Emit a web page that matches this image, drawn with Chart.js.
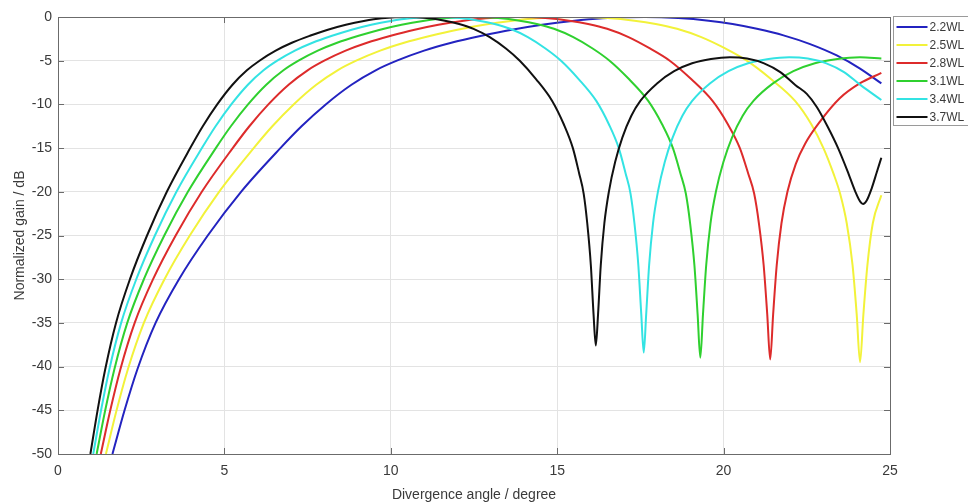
<!DOCTYPE html>
<html><head><meta charset="utf-8">
<script src="https://cdn.jsdelivr.net/npm/chart.js@4.4.1/dist/chart.umd.min.js"></script>
<style>html,body{margin:0;padding:0;background:#fff;overflow:hidden}</style>
</head><body>
<canvas id="c" width="968" height="504"></canvas>
<script>
// ---- data ----
const seriesLabels = ['2.2WL', '2.5WL', '2.8WL', '3.1WL', '3.4WL', '3.7WL'];
const xTickValues = [0, 5, 10, 15, 20, 25];
const yTickValues = [0, -5, -10, -15, -20, -25, -30, -35, -40, -45, -50];
const xTitle = 'Divergence angle / degree';
const yTitle = 'Normalized gain / dB';

const wl22X = [1.636, 2.0, 2.386, 2.932, 3.636, 4.5, 5.5, 6.682, 7.318, 8.045, 8.818, 9.545, 10.182, 11.0, 11.818, 12.727, 13.636, 14.545, 15.455, 16.364, 17.636, 18.64, 19.55, 20.27, 21.0, 21.8, 22.6, 23.4, 24.1, 24.74];
const wl22Y = [-50, -45, -40.3, -35, -30, -25, -20, -15, -12.5, -10, -7.75, -6.1, -5, -3.85, -2.95, -2.15, -1.45, -0.88, -0.45, -0.15, 0, -0.12, -0.42, -0.8, -1.35, -2.1, -3.1, -4.4, -5.9, -7.6];

const wl25X = [1.44, 1.76, 2.1, 2.58, 3.2, 3.96, 4.84, 5.88, 6.44, 7.08, 7.76, 8.4, 8.96, 9.68, 10.4, 11.2, 12.0, 12.8, 13.6, 14.4, 15.52, 16.51, 17.32, 17.96, 18.6, 19.33, 20.05, 20.697, 21.422, 22.147, 22.64, 23.0, 23.3, 23.5, 23.7, 23.875, 23.999, 24.1, 24.201, 24.321, 24.483, 24.74];
const wl25Y = [-50, -45, -40.3, -35, -30, -25, -20, -15, -12.5, -10, -7.75, -6.1, -5, -3.85, -2.95, -2.15, -1.45, -0.88, -0.45, -0.15, 0, -0.12, -0.42, -0.8, -1.35, -2.3, -3.6, -5, -7.1, -9.6, -12.3, -15, -17.9, -20.2, -23.6, -28.4, -34, -39.5, -34, -28.4, -23.6, -20.4];

const wl28X = [1.286, 1.571, 1.875, 2.304, 2.857, 3.536, 4.321, 5.25, 5.75, 6.321, 6.929, 7.5, 8.0, 8.643, 9.286, 10.0, 10.714, 11.429, 12.143, 12.857, 13.857, 14.643, 15.357, 15.929, 16.5, 17.143, 17.786, 18.382, 19.025, 19.668, 20.132, 20.489, 20.739, 20.918, 21.061, 21.204, 21.311, 21.4, 21.489, 21.596, 21.739, 21.918, 22.17, 22.45, 22.89, 23.49, 24.09, 24.74];
const wl28Y = [-50, -45, -40.3, -35, -30, -25, -20, -15, -12.5, -10, -7.75, -6.1, -5, -3.85, -2.95, -2.15, -1.45, -0.88, -0.45, -0.15, 0, -0.12, -0.42, -0.8, -1.35, -2.3, -3.6, -5, -7.1, -9.6, -12.3, -15, -17.9, -20.2, -23.6, -28.4, -34, -39.2, -34, -28.4, -23.6, -20, -16.8, -14.5, -12.0, -9.3, -7.6, -6.4];

const wl31X = [1.161, 1.419, 1.694, 2.081, 2.581, 3.194, 3.903, 4.742, 5.194, 5.71, 6.258, 6.774, 7.226, 7.806, 8.387, 9.032, 9.677, 10.323, 10.968, 11.613, 12.516, 13.226, 13.871, 14.387, 14.903, 15.484, 16.065, 16.574, 17.155, 17.735, 18.155, 18.477, 18.703, 18.865, 18.994, 19.123, 19.219, 19.3, 19.381, 19.477, 19.606, 19.768, 19.994, 20.252, 20.574, 20.897, 21.484, 22.097, 22.742, 23.419, 24.097, 24.74];
const wl31Y = [-50, -45, -40.3, -35, -30, -25, -20, -15, -12.5, -10, -7.75, -6.1, -5, -3.85, -2.95, -2.15, -1.45, -0.88, -0.45, -0.15, 0, -0.12, -0.42, -0.8, -1.35, -2.3, -3.6, -5, -7.1, -9.6, -12.3, -15, -17.9, -20.2, -23.6, -28.4, -34, -39, -34, -28.4, -23.6, -20, -16.6, -13.8, -11.3, -9.6, -7.6, -6.2, -5.3, -4.8, -4.6, -4.75];

const wl34X = [1.059, 1.294, 1.544, 1.897, 2.353, 2.912, 3.559, 4.324, 4.735, 5.206, 5.706, 6.176, 6.588, 7.118, 7.647, 8.235, 8.824, 9.412, 10.0, 10.588, 11.412, 12.059, 12.647, 13.118, 13.588, 14.118, 14.647, 15.115, 15.644, 16.174, 16.556, 16.85, 17.056, 17.203, 17.321, 17.438, 17.526, 17.6, 17.674, 17.762, 17.879, 18.026, 18.232, 18.468, 18.762, 19.056, 19.588, 20.147, 20.735, 21.353, 21.971, 22.529, 23.088, 23.618, 24.118, 24.74];
const wl34Y = [-50, -45, -40.3, -35, -30, -25, -20, -15, -12.5, -10, -7.75, -6.1, -5, -3.85, -2.95, -2.15, -1.45, -0.88, -0.45, -0.15, 0, -0.12, -0.42, -0.8, -1.35, -2.3, -3.6, -5, -7.1, -9.6, -12.3, -15, -17.9, -20.2, -23.6, -28.4, -34, -38.4, -34, -28.4, -23.6, -20, -16.6, -13.8, -11.3, -9.6, -7.6, -6.2, -5.3, -4.8, -4.6, -4.75, -5.3, -6.3, -7.8, -9.5];

const wl37X = [0.973, 1.189, 1.419, 1.743, 2.162, 2.676, 3.27, 3.973, 4.351, 4.784, 5.243, 5.676, 6.054, 6.541, 7.027, 7.568, 8.108, 8.649, 9.189, 9.73, 10.486, 11.081, 11.622, 12.054, 12.486, 12.973, 13.459, 13.876, 14.363, 14.849, 15.201, 15.471, 15.66, 15.795, 15.903, 16.011, 16.092, 16.16, 16.228, 16.309, 16.417, 16.552, 16.741, 16.957, 17.228, 17.498, 18.0, 18.514, 19.054, 19.622, 20.189, 20.703, 21.216, 21.703, 22.162, 22.5, 22.8, 23.12, 23.44, 23.72, 23.96, 24.1, 24.19, 24.3, 24.45, 24.6, 24.74];
const wl37Y = [-50, -45, -40.3, -35, -30, -25, -20, -15, -12.5, -10, -7.75, -6.1, -5, -3.85, -2.95, -2.15, -1.45, -0.88, -0.45, -0.15, 0, -0.12, -0.42, -0.8, -1.35, -2.3, -3.6, -5, -7.1, -9.6, -12.3, -15, -17.9, -20.2, -23.6, -28.4, -34, -37.6, -34, -28.4, -23.6, -20, -16.6, -13.8, -11.3, -9.6, -7.6, -6.2, -5.3, -4.8, -4.6, -4.75, -5.3, -6.3, -7.8, -8.8, -10.3, -12.5, -15, -17.6, -20, -21.1, -21.4, -21, -19.6, -17.8, -16.1];

const seriesX = [wl22X, wl25X, wl28X, wl31X, wl34X, wl37X];
const seriesY = [wl22Y, wl25Y, wl28Y, wl31Y, wl34Y, wl37Y];
const seriesColors = ['#2323c0', '#f2f23a', '#dd2b2b', '#2fd02f', '#33e3e3', '#111111'];

// ---- chart ----
const FONT = "'Liberation Sans', Arial, Helvetica, sans-serif";
const AXIS = '#6b6b6b';
const TXT = '#3a3a3a';

const datasets = seriesLabels.map((lab, i) => ({
  label: lab,
  data: seriesX[i].map((x, j) => ({ x: x, y: seriesY[i][j] })),
  borderColor: seriesColors[i],
  backgroundColor: seriesColors[i],
  borderWidth: 2,
  pointRadius: 0,
  fill: false,
  showLine: true,
  cubicInterpolationMode: 'monotone',
  order: seriesLabels.length - i
}));

const frame = {
  id: 'frame',
  afterDatasetsDraw(chart) {
    const { ctx, chartArea: a, scales } = chart;
    ctx.save();
    ctx.strokeStyle = AXIS;
    ctx.lineWidth = 1;
    ctx.beginPath();
    xTickValues.forEach(v => {
      const px = Math.round(scales.x.getPixelForValue(v)) + 0.5;
      ctx.moveTo(px, a.bottom); ctx.lineTo(px, a.bottom - 6);
      ctx.moveTo(px, a.top); ctx.lineTo(px, a.top + 6);
    });
    yTickValues.forEach(v => {
      const py = Math.round(scales.y.getPixelForValue(v)) + 0.5;
      ctx.moveTo(a.left, py); ctx.lineTo(a.left + 6, py);
      ctx.moveTo(a.right, py); ctx.lineTo(a.right - 6, py);
    });
    ctx.stroke();
    ctx.strokeRect(Math.round(a.left) + 0.5, Math.round(a.top) + 0.5,
      Math.round(a.right - a.left), Math.round(a.bottom - a.top));
    ctx.restore();
  },
  afterDraw(chart) {
    const { ctx, chartArea: a } = chart;
    ctx.save();
    const bx = a.right + 3.5, by = a.top - 0.5, bw = 90, bh = 109;
    ctx.fillStyle = '#fff';
    ctx.fillRect(bx, by, bw, bh);
    ctx.strokeStyle = '#9a9a9a';
    ctx.lineWidth = 1;
    ctx.strokeRect(bx, by, bw, bh);
    ctx.font = '12px ' + FONT;
    ctx.textBaseline = 'middle';
    ctx.textAlign = 'left';
    chart.data.datasets.forEach((ds, i) => {
      const y = by + 10.5 + 18 * i;
      ctx.strokeStyle = ds.borderColor;
      ctx.lineWidth = 2;
      ctx.beginPath();
      ctx.moveTo(bx + 3, y); ctx.lineTo(bx + 34, y);
      ctx.stroke();
      ctx.fillStyle = TXT;
      ctx.fillText(ds.label, bx + 36, y + 0.5);
    });
    ctx.restore();
  }
};

new Chart(document.getElementById('c'), {
  type: 'scatter',
  data: { datasets: datasets },
  options: {
    responsive: false,
    animation: false,
    devicePixelRatio: 1,
    layout: { padding: { left: 0, right: 78, top: 17, bottom: 0 } },
    plugins: { legend: { display: false }, tooltip: { enabled: false } },
    scales: {
      x: {
        type: 'linear', min: 0, max: 25,
        afterFit: s => { s.height = 50; },
        afterBuildTicks: s => { s.ticks = xTickValues.map(v => ({ value: v })); },
        grid: { color: '#e3e3e3', drawTicks: false },
        border: { display: false },
        ticks: { color: TXT, padding: 9, font: { family: FONT, size: 14 }, maxRotation: 0 },
        title: { display: true, text: xTitle, color: TXT, font: { family: FONT, size: 14 }, padding: { top: 0, bottom: 0 } }
      },
      y: {
        type: 'linear', min: -50, max: 0,
        afterFit: s => { s.width = 58; },
        afterBuildTicks: s => { s.ticks = yTickValues.map(v => ({ value: v })); },
        grid: { color: '#e3e3e3', drawTicks: false },
        border: { display: false },
        ticks: { color: TXT, padding: 6, font: { family: FONT, size: 14 } },
        title: { display: true, text: yTitle, color: TXT, font: { family: FONT, size: 14 }, padding: { top: 12, bottom: 0 } }
      }
    }
  },
  plugins: [frame]
});
</script>
</body></html>
